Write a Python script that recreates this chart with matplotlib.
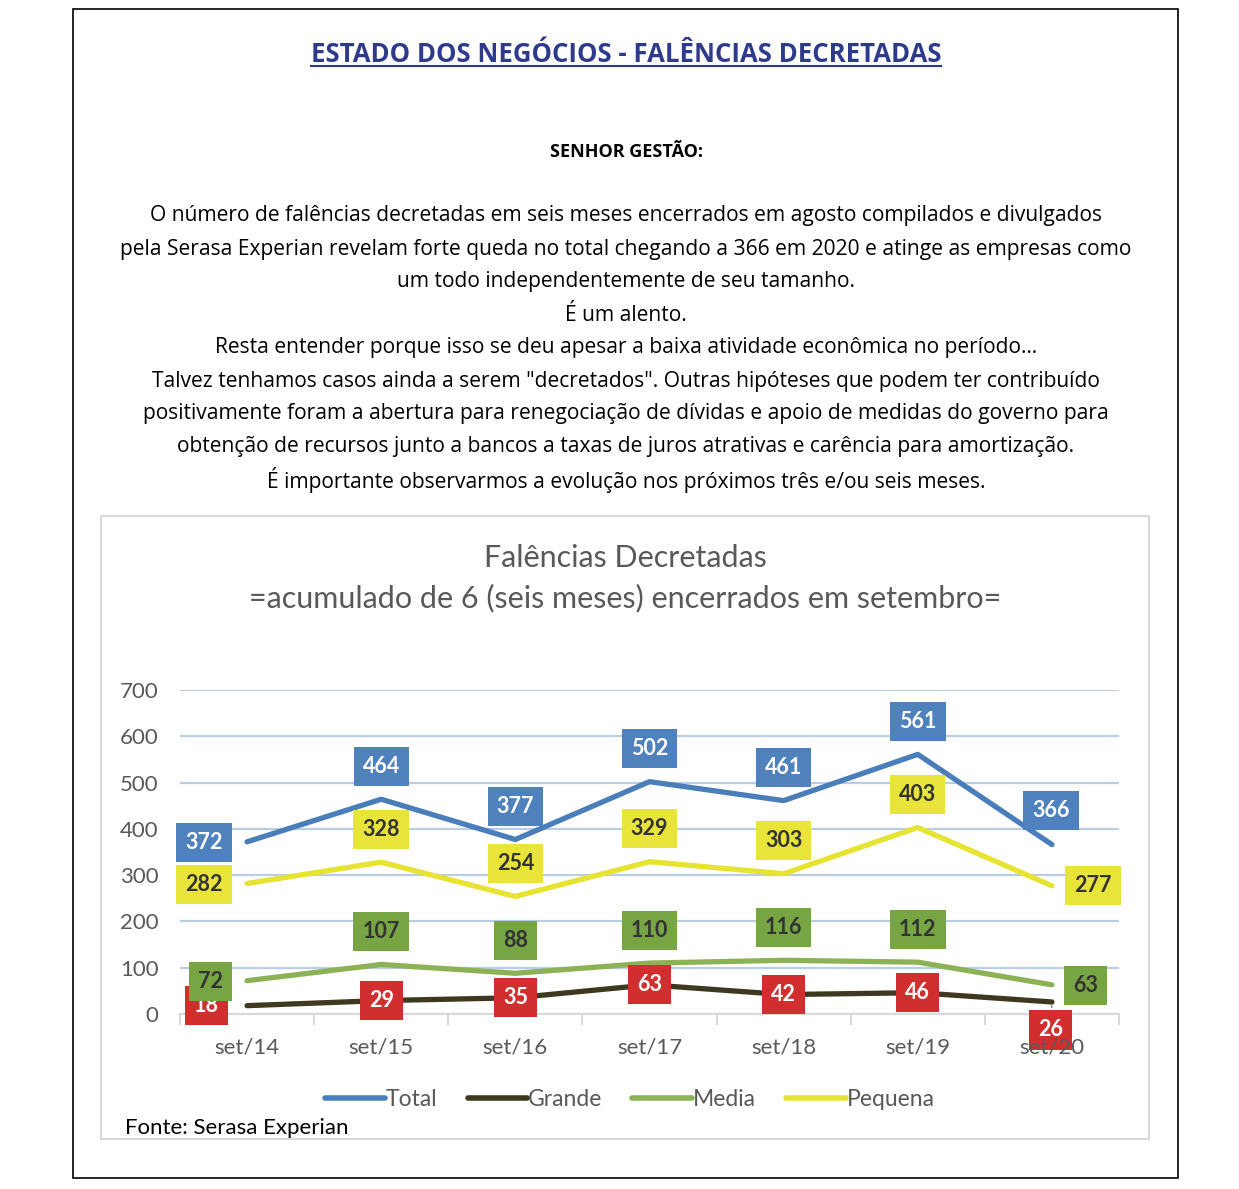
import matplotlib.pyplot as plt
from matplotlib.lines import Line2D
from matplotlib.patches import Rectangle

W, H = 1239, 1189

# data
anos = ["set/14", "set/15", "set/16", "set/17", "set/18", "set/19", "set/20"]
total = [372, 464, 377, 502, 461, 561, 366]
grande = [18, 29, 35, 63, 42, 46, 26]
media = [72, 107, 88, 110, 116, 112, 63]
pequena = [282, 328, 254, 329, 303, 403, 277]

paragrafo = [
    "O número de falências decretadas em seis meses encerrados em agosto compilados e divulgados",
    "pela Serasa Experian revelam forte queda no total chegando a 366 em 2020 e atinge as empresas como",
    "um todo independentemente de seu tamanho.",
    "É um alento.",
    "Resta entender porque isso se deu apesar a baixa atividade econômica no período…",
    "Talvez tenhamos casos ainda a serem \"decretados\". Outras hipóteses que podem ter contribuído",
    "positivamente foram a abertura para renegociação de dívidas e apoio de medidas do governo para",
    "obtenção de recursos junto a bancos a taxas de juros atrativas e carência para amortização.",
    "É importante observarmos a evolução nos próximos três e/ou seis meses.",
]

# label offsets in pixels (first point / middle points / last point)
off_total = [(-43, -1)] + [(0, 33)] * 5 + [(-1, 34)]
off_pequena = [(-43, -1)] + [(0, 33)] * 5 + [(41, 0)]
off_media = [(-37, -1)] + [(0, 33)] * 5 + [(34, -1)]
off_grande = [(-41, 0)] + [(0, 0)] * 5 + [(-1, -28)]


def fx(x):
    return x / W


def fy(y):
    return 1 - y / H


fig = plt.figure(figsize=(W / 100, H / 100), dpi=100)

# borders
fig.patches.append(Rectangle((fx(73), fy(1178)), fx(1178) - fx(73), fy(9) - fy(1178),
                             transform=fig.transFigure, fill=False, ec="black", lw=1.2))
fig.patches.append(Rectangle((fx(101), fy(1139)), fx(1149) - fx(101), fy(516) - fy(1139),
                             transform=fig.transFigure, fill=False, ec="#d9d9d9", lw=1.5))

# header texts
titulo = fig.text(fx(626), fy(54), "ESTADO DOS NEGÓCIOS - FALÊNCIAS DECRETADAS",
                  ha="center", va="center", fontsize=18.5, fontweight="bold",
                  color="#2e3a8c", family="Open Sans")
fig.text(fx(626), fy(152), "SENHOR GESTÃO:", ha="center", va="center",
         fontsize=13, fontweight="bold", color="black", family="Open Sans")
for i, linha in enumerate(paragrafo):
    fig.text(fx(626), fy(216 + 33 * i), linha, ha="center", va="center",
             fontsize=15.1, color="black", family="Open Sans")

# chart title
fig.text(fx(625), fy(558), "Falências Decretadas", ha="center", va="center",
         fontsize=22, color="#595959", family="Lato")
fig.text(fx(625), fy(598), "=acumulado de 6 (seis meses) encerrados em setembro=",
         ha="center", va="center", fontsize=22, color="#595959", family="Lato")
fig.text(fx(125), fy(1128), "Fonte: Serasa Experian", ha="left", va="center",
         fontsize=16, color="black", family="Lato")

ax = fig.add_axes([fx(180), fy(1014), fx(1119) - fx(180), fy(690) - fy(1014)])
x = list(range(len(anos)))

series = [
    ("Total", total, "#4a7ebb", "#4f81bd", "white", off_total),
    ("Grande", grande, "#3d3920", "#d12f2f", "white", off_grande),
    ("Media", media, "#8db255", "#77a543", "#333333", off_media),
    ("Pequena", pequena, "#e6e332", "#e8e43a", "#333333", off_pequena),
]

for nome, vals, cor, cor_box, cor_txt, offs in series:
    ax.plot(x, vals, color=cor, lw=3.8, label=nome, solid_capstyle="round", zorder=3)
    for i, v in enumerate(vals):
        arrow = None
        if nome == "Grande" and i == len(vals) - 1:
            arrow = dict(arrowstyle="-", color="#8c8c8c", lw=1)
        ax.annotate(str(v), (i, v), xytext=offs[i], textcoords="offset pixels",
                    ha="center", va="center", fontsize=15.5, fontweight="bold",
                    color=cor_txt, family="Lato", zorder=5, arrowprops=arrow,
                    bbox=dict(boxstyle="square,pad=0.42", fc=cor_box, ec="none"))

ax.set_xlim(-0.5, len(anos) - 0.5)
ax.set_ylim(0, 700)
ax.set_yticks(range(0, 701, 100))
ax.yaxis.grid(True, color="#b9cde5", lw=1.6)
ax.set_axisbelow(True)
ax.set_xticks(x)
ax.set_xticklabels(anos)
ax.set_xticks([i + 0.5 for i in x[:-1]] + [-0.5, len(anos) - 0.5], minor=True)
ax.tick_params(axis="x", which="major", length=0, pad=17, labelsize=16, labelcolor="#595959")
ax.tick_params(axis="x", which="minor", length=8, color="#d9d9d9", width=1.5)
ax.tick_params(axis="y", length=0, pad=15.5, labelsize=16, labelcolor="#595959")
for lab in ax.get_xticklabels() + ax.get_yticklabels():
    lab.set_family("Lato")
ax.xaxis.set_zorder(6)
for s in ["top", "right", "left"]:
    ax.spines[s].set_visible(False)
ax.spines["bottom"].set_color("#d9d9d9")
ax.spines["bottom"].set_linewidth(1.5)
ax.spines["bottom"].set_zorder(2)

handles = [Line2D([], [], color=s[2], lw=4, solid_capstyle="round") for s in series]
leg = fig.legend(handles, [s[0] for s in series], loc="center", ncol=4,
                 bbox_to_anchor=(fx(630), fy(1100)), frameon=False,
                 prop={"family": "Lato", "size": 16.5}, handlelength=2.6,
                 handletextpad=0.05, columnspacing=1.3)
for t in leg.get_texts():
    t.set_color("#595959")

# underline for the header title
fig.canvas.draw()
bb = titulo.get_window_extent().transformed(fig.transFigure.inverted())
fig.lines.append(Line2D([bb.x0, bb.x1], [bb.y0 + 0.001, bb.y0 + 0.001],
                        transform=fig.transFigure, color="#2e3a8c", lw=1.5))

fig.savefig("out.png", dpi=100)
